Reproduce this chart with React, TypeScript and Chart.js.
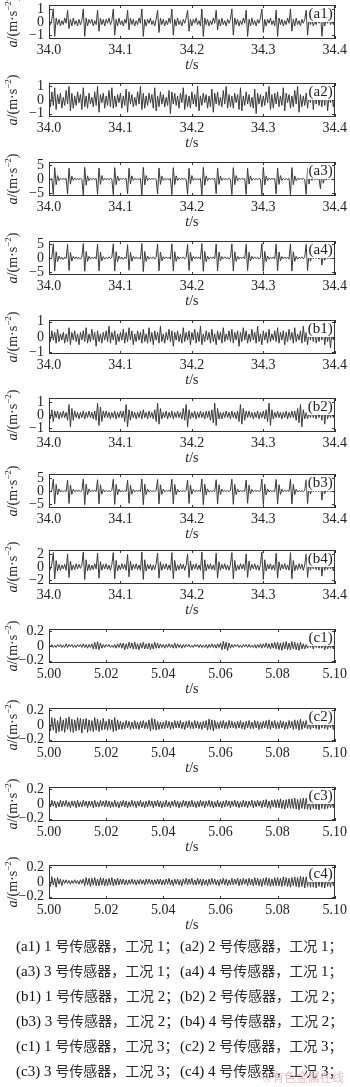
import React, { useEffect, useRef } from "react";
import { Chart, registerables } from "chart.js";
Chart.register(...registerables);

// ---------- sampling ----------
const T0_AB = 34.0;
const DT_AB = 0.002;
const T0_C = 5.0;
const DT_C = 0.0005;

// ---------- tick values / labels ----------
const X_TICKS_AB = [34.0, 34.1, 34.2, 34.3, 34.4];
const X_LABELS_AB = ["34.0", "34.1", "34.2", "34.3", "34.4"];
const X_TICKS_C = [5.0, 5.02, 5.04, 5.06, 5.08, 5.1];
const X_LABELS_C = ["5.00", "5.02", "5.04", "5.06", "5.08", "5.10"];

const Y_TICKS_1 = [-1, 0, 1];
const Y_LABELS_1 = ["\u22121", "0", "1"];
const Y_TICKS_5 = [-5, 0, 5];
const Y_LABELS_5 = ["\u22125", "0", "5"];
const Y_TICKS_2 = [-2, 0, 2];
const Y_LABELS_2 = ["\u22122", "0", "2"];
const Y_TICKS_02 = [-0.2, 0, 0.2];
const Y_LABELS_02 = ["\u22120.2", "0", "0.2"];

// ---------- series values (m/s^2) ----------
const A1 = [
  0.1,-0.2,0.2,1.0,-1.1,0.3,-0.2,0.2,-0.3,0.1,
  -0.2,0.3,-0.1,0.9,-0.5,0.2,-0.3,0.3,-0.2,0.1,
  -0.3,0.2,-0.2,0.1,1.0,-1.1,0.3,-0.3,0.2,-0.1,
  0.2,-0.3,0.1,-0.2,0.9,-0.7,0.3,-0.2,0.2,-0.3,
  0.2,-0.1,0.3,-0.2,0.1,1.0,-1.0,0.2,-0.3,0.3,
  -0.2,0.1,-0.3,0.2,-0.1,0.9,-0.6,0.3,-0.2,0.2,
  -0.3,0.1,-0.2,0.3,-0.1,1.0,-1.1,0.2,-0.3,0.2,
  -0.1,0.3,-0.2,0.1,-0.3,0.2,0.9,-0.8,0.3,-0.2,
  0.2,-0.3,0.1,-0.2,0.3,-0.1,1.0,-1.0,0.2,-0.3,
  0.3,-0.2,0.1,-0.3,0.2,-0.1,0.3,0.9,-0.7,0.2,
  -0.3,0.2,-0.1,0.3,-0.2,0.1,-0.3,1.0,-1.1,0.3,
  -0.2,0.2,-0.3,0.1,-0.2,0.3,-0.1,0.9,-0.6,0.2,
  -0.3,0.3,-0.2,0.1,-0.3,0.2,-0.1,0.2,1.0,-1.0,
  0.3,-0.2,0.2,-0.3,0.1,-0.2,0.3,-0.1,0.9,-1.1,
  0.2,-0.3,0.3,-0.2,0.1,-0.3,0.2,-0.1,0.3,1.0,
  -0.8,0.2,-0.3,0.2,-0.1,0.3,-0.2,0.1,-0.3,0.9,
  -1.1,0.3,-0.2,0.2,-0.3,0.1,-0.2,0.3,-0.1,1.0,
  -0.7,0.2,-0.3,0.3,-0.2,0.1,-0.3,0.2,-0.1,0.2,
  0.9,-1.0,0.3,-0.2,0.2,-0.3,0.1,-0.2,0.3,-0.1,
  1.0,-1.1,0.2,-0.3,0.2,-0.1,0.3,-0.2,0.1,-0.2,0.1,
];
const A2 = [
  0.3,-0.5,0.6,-0.4,0.9,-0.7,0.4,-0.3,0.5,-0.6,
  0.2,-0.4,0.7,-0.3,1.0,-0.8,0.5,-0.6,0.3,-0.4,
  0.6,-0.2,0.4,-0.7,0.9,-0.5,0.3,-0.6,0.5,-0.3,
  0.2,-0.5,0.6,-0.4,1.0,-0.9,0.4,-0.2,0.5,-0.6,
  0.3,-0.4,0.7,-0.5,0.9,-0.6,0.3,-0.5,0.4,-0.2,
  0.5,-0.6,0.3,-0.4,0.8,-0.9,0.6,-0.3,0.4,-0.5,
  0.2,-0.4,0.6,-0.3,1.0,-0.7,0.5,-0.6,0.3,-0.4,
  0.5,-0.2,0.4,-0.6,0.9,-0.8,0.3,-0.5,0.6,-0.3,
  0.4,-0.5,0.2,-0.4,0.7,-1.0,0.6,-0.3,0.5,-0.4,
  0.3,-0.6,0.5,-0.2,0.9,-0.7,0.4,-0.5,0.3,-0.6,
  0.6,-0.3,0.4,-0.5,1.0,-0.8,0.3,-0.4,0.5,-0.2,
  0.4,-0.6,0.3,-0.5,0.8,-0.9,0.5,-0.3,0.6,-0.4,
  0.2,-0.5,0.7,-0.3,1.0,-0.6,0.4,-0.5,0.3,-0.6,
  0.5,-0.2,0.4,-0.7,0.9,-0.8,0.3,-0.4,0.6,-0.3,
  0.4,-0.5,0.2,-0.6,0.8,-1.0,0.5,-0.3,0.4,-0.5,
  0.3,-0.4,0.6,-0.2,1.0,-0.7,0.4,-0.6,0.5,-0.3,
  0.6,-0.5,0.3,-0.4,0.9,-0.8,0.5,-0.2,0.4,-0.6,
  0.3,-0.5,0.7,-0.3,1.0,-0.9,0.4,-0.5,0.3,-0.4,
  0.5,-0.6,0.4,-0.2,0.8,-0.7,0.6,-0.3,0.5,-0.4,
  0.3,-0.5,0.6,-0.4,0.9,-0.8,0.3,-0.2,0.4,-0.5,0.3,
];
const A3 = [
  0.1,-0.2,0.2,-5.5,4.0,-2.0,1.2,-0.6,0.3,-0.2,
  0.2,-0.1,0.2,-5.3,3.8,-1.8,1.0,-0.5,0.3,-0.2,
  0.1,-0.2,0.2,-0.1,-5.6,4.1,-2.2,1.1,-0.6,0.3,
  -0.2,0.2,-0.1,0.2,-5.4,3.9,-1.9,1.2,-0.5,0.2,
  -0.2,0.1,-0.2,0.2,-0.1,-5.5,4.0,-2.0,1.0,-0.6,
  0.3,-0.2,0.2,-0.1,0.2,-5.2,3.8,-1.8,1.1,-0.5,
  0.2,-0.2,0.1,-0.2,0.2,-5.6,4.1,-2.1,1.2,-0.6,
  0.3,-0.2,0.2,-0.1,0.2,-0.2,-5.3,3.9,-1.9,1.0,
  -0.5,0.2,-0.2,0.1,-0.2,0.2,-5.5,4.0,-2.0,1.1,
  -0.6,0.3,-0.2,0.2,-0.1,0.2,-0.2,-5.4,3.8,-1.8,
  1.2,-0.5,0.2,-0.2,0.1,-0.2,0.2,-5.6,4.1,-2.2,
  1.1,-0.6,0.3,-0.2,0.2,-0.1,0.2,-5.2,3.9,-1.9,
  1.0,-0.5,0.2,-0.2,0.1,-0.2,0.2,-0.1,-5.5,4.0,
  -2.0,1.2,-0.6,0.3,-0.2,0.2,-0.1,0.2,-5.4,3.8,
  -1.8,1.1,-0.5,0.2,-0.2,0.1,-0.2,0.2,-0.1,-5.6,
  4.1,-2.1,1.0,-0.6,0.3,-0.2,0.2,-0.1,0.2,-5.3,
  3.9,-1.9,1.2,-0.5,0.2,-0.2,0.1,-0.2,0.2,-5.5,
  4.0,-2.0,1.1,-0.6,0.3,-0.2,0.2,-0.1,0.2,-0.2,
  -5.4,3.8,-1.8,1.0,-0.5,0.2,-0.2,0.1,-0.2,0.2,
  -3.5,3.0,-1.5,0.8,-0.4,0.2,-0.1,0.2,-0.2,0.1,-0.1,
];
const A4 = [
  0.3,-0.4,0.2,5.0,-4.6,2.2,-1.3,0.7,-0.4,0.3,
  -0.5,0.3,-0.2,4.8,-4.4,2.0,-1.1,0.6,-0.3,0.4,
  -0.3,0.2,-0.4,0.3,5.1,-4.7,2.3,-1.2,0.6,-0.4,
  0.3,-0.2,0.4,-0.3,4.9,-4.5,2.1,-1.0,0.5,-0.4,
  0.2,-0.3,0.4,-0.2,0.3,5.0,-4.6,2.2,-1.3,0.7,
  -0.4,0.3,-0.5,0.3,-0.2,4.7,-4.3,2.0,-1.1,0.6,
  -0.3,0.4,-0.3,0.2,-0.4,5.1,-4.8,2.3,-1.2,0.7,
  -0.4,0.3,-0.2,0.4,-0.3,0.2,4.9,-4.5,2.1,-1.0,
  0.5,-0.3,0.4,-0.2,0.3,-0.4,5.0,-4.6,2.2,-1.2,
  0.6,-0.4,0.3,-0.2,0.4,-0.3,0.2,4.8,-4.4,2.0,
  -1.1,0.6,-0.3,0.4,-0.2,0.3,-0.4,5.1,-4.7,2.3,
  -1.3,0.7,-0.4,0.3,-0.2,0.4,-0.3,4.9,-4.5,2.1,
  -1.0,0.5,-0.3,0.4,-0.2,0.3,-0.4,0.2,5.0,-4.6,
  2.2,-1.2,0.6,-0.4,0.3,-0.2,0.4,-0.3,4.8,-4.4,
  2.0,-1.1,0.6,-0.3,0.4,-0.2,0.3,-0.4,0.2,5.1,
  -4.7,2.3,-1.3,0.7,-0.4,0.3,-0.2,0.4,-0.3,4.9,
  -4.5,2.1,-1.0,0.5,-0.3,0.4,-0.2,0.3,-0.4,5.0,
  -4.6,2.2,-1.2,0.6,-0.4,0.3,-0.2,0.4,-0.3,0.2,
  4.8,-4.4,2.0,-1.1,0.6,-0.3,0.4,-0.2,0.3,-0.4,
  3.0,-2.5,1.4,-0.8,0.4,-0.3,0.2,-0.4,0.3,-0.2,0.3,
];
const B1 = [
  0.2,-0.3,0.4,-0.2,0.3,-0.4,0.5,-0.3,0.2,-0.2,
  0.3,-0.4,0.2,-0.3,0.6,-0.5,0.3,-0.2,0.4,-0.3,
  0.2,-0.5,0.3,-0.2,0.4,-0.3,0.6,-0.4,0.2,-0.3,
  0.5,-0.2,0.3,-0.6,0.4,-0.3,0.2,-0.4,0.3,-0.2,
  0.4,-0.3,0.7,-0.4,0.3,-0.2,0.4,-0.5,0.2,-0.3,
  0.3,-0.2,0.5,-0.4,0.3,-0.3,0.6,-0.2,0.4,-0.5,
  0.2,-0.3,0.4,-0.2,0.3,-0.4,0.5,-0.3,0.2,-0.4,
  0.6,-0.3,0.3,-0.5,0.4,-0.2,0.3,-0.4,0.7,-0.3,
  0.2,-0.4,0.3,-0.2,0.5,-0.3,0.4,-0.6,0.3,-0.2,
  0.4,-0.3,0.2,-0.4,0.6,-0.3,0.3,-0.2,0.4,-0.5,
  0.3,-0.2,0.5,-0.4,0.3,-0.3,0.7,-0.5,0.2,-0.3,
  0.4,-0.2,0.3,-0.4,0.5,-0.3,0.2,-0.5,0.4,-0.2,
  0.3,-0.4,0.6,-0.3,0.2,-0.2,0.4,-0.3,0.5,-0.4,
  0.3,-0.2,0.4,-0.6,0.3,-0.3,0.6,-0.2,0.4,-0.4,
  0.2,-0.3,0.5,-0.2,0.3,-0.4,0.7,-0.3,0.2,-0.5,
  0.4,-0.2,0.3,-0.4,0.5,-0.3,0.2,-0.2,0.4,-0.3,
  0.6,-0.4,0.3,-0.2,0.4,-0.5,0.3,-0.3,0.5,-0.2,
  0.3,-0.4,0.6,-0.3,0.2,-0.2,0.4,-0.4,0.7,-0.3,
  0.3,-0.5,0.4,-0.2,0.3,-0.3,0.5,-0.4,0.2,-0.3,
  0.4,-0.2,0.6,-0.5,0.3,-0.3,0.4,-0.7,0.3,-0.2,0.2,
];
const B2 = [
  0.2,-0.3,0.4,-0.5,0.3,-0.2,0.3,-0.3,0.2,-0.2,
  0.3,-0.2,0.2,-0.4,0.8,-0.9,0.5,-0.4,0.3,-0.2,
  0.2,-0.3,0.2,-0.2,0.3,-0.3,0.2,-0.2,0.3,-0.2,
  0.2,-0.3,0.3,-0.4,0.9,-0.8,0.6,-0.5,0.3,-0.2,
  0.3,-0.2,0.2,-0.3,0.2,-0.2,0.3,-0.3,0.2,-0.2,
  0.3,-0.2,0.3,-0.5,0.8,-0.9,0.4,-0.4,0.3,-0.2,
  0.2,-0.3,0.2,-0.2,0.3,-0.3,0.4,-0.2,0.2,-0.3,
  0.3,-0.2,0.2,-0.3,0.4,-0.5,0.9,-0.7,0.5,-0.3,
  0.2,-0.2,0.3,-0.3,0.2,-0.2,0.3,-0.3,0.2,-0.2,
  0.3,-0.2,0.2,-0.3,0.5,-0.4,0.8,-0.9,0.4,-0.3,
  0.2,-0.2,0.3,-0.3,0.2,-0.2,0.3,-0.2,0.2,-0.3,
  0.3,-0.2,0.3,-0.4,0.4,-0.6,0.9,-0.8,0.5,-0.3,
  0.2,-0.3,0.2,-0.2,0.3,-0.2,0.2,-0.3,0.3,-0.2,
  0.2,-0.3,0.3,-0.5,0.8,-0.7,0.5,-0.4,0.3,-0.2,
  0.3,-0.2,0.2,-0.3,0.2,-0.2,0.3,-0.3,0.2,-0.2,
  0.3,-0.3,0.4,-0.5,0.9,-0.8,0.4,-0.3,0.2,-0.2,
  0.3,-0.2,0.2,-0.3,0.2,-0.2,0.3,-0.3,0.2,-0.2,
  0.3,-0.2,0.3,-0.4,0.5,-0.6,0.8,-0.9,0.4,-0.3,
  0.2,-0.3,0.2,-0.2,0.3,-0.2,0.2,-0.3,0.3,-0.2,
  0.3,-0.4,0.8,-0.7,0.5,-0.3,0.2,-0.2,0.3,-0.2,0.2,
];
const B3 = [
  0.1,-0.2,0.2,4.5,-5.0,2.5,-1.5,0.8,-0.4,0.2,
  -0.2,0.1,-0.2,4.2,-4.8,2.3,-1.3,0.7,-0.3,0.2,
  -0.1,0.2,-0.2,0.1,4.6,-5.2,2.6,-1.4,0.8,-0.4,
  0.2,-0.1,0.2,-0.2,4.3,-4.9,2.4,-1.2,0.6,-0.3,
  0.2,-0.2,0.1,-0.2,0.2,4.5,-5.1,2.5,-1.5,0.7,
  -0.4,0.2,-0.2,0.1,-0.2,4.1,-4.7,2.2,-1.2,0.6,
  -0.3,0.2,-0.1,0.2,-0.2,4.6,-5.2,2.6,-1.4,0.8,
  -0.4,0.2,-0.2,0.1,-0.2,0.2,4.4,-4.9,2.4,-1.3,
  0.7,-0.3,0.2,-0.1,0.2,-0.2,4.5,-5.0,2.5,-1.4,
  0.7,-0.4,0.2,-0.2,0.1,-0.2,0.2,4.2,-4.8,2.3,
  -1.2,0.6,-0.3,0.2,-0.1,0.2,-0.2,4.6,-5.2,2.6,
  -1.5,0.8,-0.4,0.2,-0.2,0.1,-0.2,4.3,-4.9,2.4,
  -1.3,0.7,-0.3,0.2,-0.2,0.1,-0.2,0.2,4.5,-5.1,
  2.5,-1.4,0.7,-0.4,0.2,-0.2,0.1,-0.2,4.2,-4.7,
  2.2,-1.2,0.6,-0.3,0.2,-0.1,0.2,-0.2,0.1,4.6,
  -5.2,2.6,-1.5,0.8,-0.4,0.2,-0.2,0.1,-0.2,4.4,
  -4.9,2.4,-1.3,0.7,-0.3,0.2,-0.1,0.2,-0.2,4.5,
  -5.0,2.5,-1.4,0.7,-0.4,0.2,-0.2,0.1,-0.2,0.2,
  4.3,-4.8,2.3,-1.2,0.6,-0.3,0.2,-0.1,0.2,-0.2,
  3.0,-3.5,1.8,-1.0,0.5,-0.3,0.2,-0.2,0.1,-0.2,0.1,
];
const B4 = [
  0.3,-0.4,0.5,2.2,-1.8,1.0,-0.6,0.4,-0.5,0.3,
  -0.3,0.4,-0.5,2.0,-1.6,0.9,-0.5,0.3,-0.4,0.5,
  -0.3,0.4,-0.2,0.3,2.3,-1.9,1.1,-0.6,0.4,-0.5,
  0.3,-0.4,0.5,-0.3,2.1,-1.7,0.8,-0.5,0.4,-0.3,
  0.5,-0.4,0.3,-0.5,0.4,2.2,-1.8,1.0,-0.6,0.3,
  -0.4,0.5,-0.3,0.4,-0.5,1.9,-1.5,0.9,-0.5,0.4,
  -0.3,0.5,-0.4,0.3,-0.5,2.3,-1.9,1.1,-0.6,0.4,
  -0.3,0.4,-0.5,0.3,-0.4,0.5,2.1,-1.7,0.8,-0.5,
  0.4,-0.3,0.5,-0.4,0.3,-0.5,2.2,-1.8,1.0,-0.6,
  0.3,-0.4,0.5,-0.3,0.4,-0.5,0.3,2.0,-1.6,0.9,
  -0.5,0.4,-0.3,0.5,-0.4,0.3,-0.5,2.3,-1.9,1.1,
  -0.6,0.4,-0.3,0.5,-0.4,0.3,-0.5,2.1,-1.7,0.8,
  -0.5,0.4,-0.3,0.5,-0.4,0.3,-0.5,0.4,2.2,-1.8,
  1.0,-0.6,0.3,-0.4,0.5,-0.3,0.4,-0.5,2.0,-1.6,
  0.9,-0.5,0.4,-0.3,0.5,-0.4,0.3,-0.5,0.4,2.3,
  -1.9,1.1,-0.6,0.4,-0.3,0.5,-0.4,0.3,-0.5,2.1,
  -1.7,0.8,-0.5,0.4,-0.3,0.5,-0.4,0.3,-0.5,2.2,
  -1.8,1.0,-0.6,0.3,-0.4,0.5,-0.3,0.4,-0.5,0.3,
  2.0,-1.6,0.9,-0.5,0.4,-0.3,0.5,-0.4,0.3,-0.5,
  1.6,-1.4,0.8,-0.5,0.3,-0.4,0.5,-0.3,0.4,-0.6,0.3,
];
const C1 = [
  .02,-.01,.02,-.02,.01,-.02,.02,-.01,.02,-.02,
  .01,-.02,.03,-.02,.02,-.01,.02,-.02,.01,-.02,
  .02,-.01,.02,-.02,.03,-.02,.02,-.03,.02,-.02,
  .03,-.04,.05,-.04,.06,-.05,.04,-.03,.02,-.02,
  .02,-.01,.02,-.02,.01,-.02,.02,-.03,.03,-.02,
  .04,-.03,.04,-.05,.03,-.04,.05,-.03,.04,-.04,
  .05,-.04,.03,-.05,.04,-.03,.05,-.04,.03,-.04,
  .04,-.05,.03,-.04,.05,-.03,.04,-.03,.03,-.02,
  .02,-.03,.02,-.02,.03,-.02,.02,-.03,.04,-.03,
  .03,-.02,.02,-.03,.02,-.02,.02,-.01,.02,-.02,
  .01,-.02,.02,-.01,.02,-.02,.02,-.02,.01,-.02,
  .02,-.03,.02,-.02,.03,-.02,.02,-.03,.03,-.02,
  .04,-.05,.06,-.04,.05,-.06,.04,-.03,.02,-.02,
  .02,-.01,.02,-.02,.01,-.02,.02,-.01,.02,-.02,
  .02,-.02,.01,-.02,.02,-.03,.02,-.02,.03,-.03,
  .03,-.02,.04,-.03,.03,-.04,.04,-.03,.05,-.04,
  .05,-.05,.04,-.06,.05,-.04,.06,-.05,.04,-.05,
  .06,-.04,.05,-.05,.04,-.06,.05,-.04,.03,-.04,
  .02,-.03,.03,-.02,.02,-.04,.03,-.02,.03,-.03,
  .02,-.03,.04,-.05,.03,-.04,.02,-.03,.02,-.04,.03,
];
const C2 = [
  .05,-.08,.10,-.07,.09,-.11,.06,-.09,.11,-.08,
  .07,-.10,.09,-.06,.11,-.09,.08,-.10,.07,-.08,
  .10,-.07,.09,-.11,.08,-.06,.09,-.10,.07,-.08,
  .06,-.09,.10,-.07,.08,-.09,.06,-.07,.09,-.06,
  .05,-.07,.08,-.06,.07,-.09,.10,-.08,.07,-.06,
  .05,-.06,.04,-.05,.06,-.04,.05,-.06,.04,-.05,
  .06,-.05,.04,-.06,.05,-.04,.06,-.05,.04,-.05,
  .07,-.08,.09,-.06,.08,-.07,.05,-.06,.04,-.05,
  .04,-.05,.06,-.04,.05,-.06,.04,-.05,.06,-.04,
  .05,-.04,.06,-.05,.04,-.06,.05,-.04,.06,-.05,
  .04,-.05,.06,-.04,.05,-.05,.04,-.06,.05,-.04,
  .06,-.07,.08,-.06,.07,-.08,.06,-.05,.04,-.05,
  .05,-.04,.06,-.05,.04,-.05,.06,-.04,.05,-.04,
  .04,-.05,.05,-.04,.06,-.05,.04,-.06,.05,-.04,
  .06,-.05,.04,-.05,.06,-.04,.05,-.06,.04,-.05,
  .05,-.04,.06,-.05,.07,-.06,.05,-.04,.06,-.05,
  .04,-.05,.06,-.04,.05,-.06,.04,-.05,.06,-.04,
  .05,-.06,.07,-.05,.06,-.07,.08,-.06,.05,-.04,
  .06,-.05,.04,-.06,.05,-.04,.06,-.05,.07,-.06,
  .05,-.04,.06,-.05,.04,-.06,.05,-.04,.05,-.06,.04,
];
const C3 = [
  .03,-.04,.05,-.03,.04,-.05,.03,-.04,.05,-.04,
  .04,-.03,.05,-.04,.03,-.05,.04,-.03,.04,-.05,
  .05,-.04,.03,-.04,.05,-.03,.04,-.05,.04,-.03,
  .04,-.05,.05,-.04,.03,-.04,.05,-.03,.04,-.04,
  .05,-.04,.04,-.05,.03,-.04,.05,-.04,.03,-.05,
  .04,-.03,.05,-.04,.04,-.05,.03,-.04,.05,-.03,
  .04,-.05,.04,-.03,.05,-.04,.03,-.05,.04,-.04,
  .05,-.03,.04,-.05,.04,-.03,.05,-.04,.04,-.05,
  .03,-.04,.05,-.04,.03,-.05,.04,-.03,.05,-.04,
  .04,-.05,.03,-.04,.05,-.03,.04,-.05,.04,-.04,
  .05,-.04,.03,-.05,.04,-.04,.05,-.03,.04,-.05,
  .04,-.03,.05,-.04,.04,-.05,.03,-.04,.05,-.04,
  .03,-.05,.04,-.04,.05,-.03,.04,-.05,.04,-.03,
  .05,-.04,.04,-.05,.03,-.04,.05,-.04,.04,-.05,
  .04,-.03,.05,-.05,.04,-.04,.05,-.03,.04,-.05,
  .05,-.04,.06,-.05,.04,-.06,.05,-.04,.06,-.05,
  .06,-.05,.07,-.06,.05,-.07,.06,-.05,.07,-.06,
  .07,-.06,.08,-.07,.06,-.08,.07,-.06,.08,-.07,
  .08,-.07,.06,-.08,.07,-.06,.08,-.07,.06,-.08,
  .07,-.06,.08,-.07,.05,-.06,.04,-.05,.03,-.05,.04,
];
const C4 = [
  .02,-.06,.07,-.04,.05,-.07,.06,-.03,.04,-.05,
  .03,-.02,.03,-.02,.02,-.03,.02,-.02,.03,-.02,
  .02,-.03,.03,-.02,.04,-.05,.06,-.04,.05,-.06,
  .05,-.04,.06,-.05,.04,-.05,.06,-.04,.05,-.05,
  .04,-.05,.05,-.04,.06,-.05,.04,-.04,.05,-.04,
  .04,-.03,.04,-.04,.03,-.04,.03,-.03,.04,-.03,
  .03,-.04,.03,-.03,.04,-.03,.03,-.04,.04,-.03,
  .04,-.03,.03,-.04,.03,-.03,.04,-.03,.04,-.04,
  .03,-.04,.04,-.03,.05,-.04,.03,-.05,.04,-.03,
  .04,-.04,.03,-.05,.04,-.03,.05,-.04,.04,-.03,
  .05,-.04,.03,-.04,.05,-.03,.04,-.05,.04,-.04,
  .03,-.05,.04,-.04,.05,-.03,.04,-.04,.03,-.05,
  .04,-.03,.05,-.04,.04,-.05,.03,-.04,.05,-.04,
  .04,-.03,.05,-.05,.04,-.04,.05,-.03,.04,-.05,
  .05,-.04,.04,-.05,.06,-.04,.05,-.05,.04,-.06,
  .05,-.04,.06,-.05,.05,-.06,.04,-.05,.06,-.05,
  .06,-.05,.05,-.06,.07,-.05,.06,-.06,.05,-.07,
  .06,-.05,.07,-.06,.06,-.07,.08,-.06,.07,-.08,
  .07,-.06,.08,-.07,.09,-.07,.08,-.08,.07,-.06,
  .08,-.07,.06,-.08,.07,-.06,.05,-.07,.06,-.05,.04,
];

// ---------- caption ----------
const CAPTION = [
  ["(a1) 1 号传感器，工况 1；", "(a2) 2 号传感器，工况 1；"],
  ["(a3) 3 号传感器，工况 1；", "(a4) 4 号传感器，工况 1；"],
  ["(b1) 1 号传感器，工况 2；", "(b2) 2 号传感器，工况 2；"],
  ["(b3) 3 号传感器，工况 2；", "(b4) 4 号传感器，工况 2；"],
  ["(c1) 1 号传感器，工况 3；", "(c2) 2 号传感器，工况 3；"],
  ["(c3) 3 号传感器，工况 3；", "(c4) 4 号传感器，工况 3；"],
];
const WATERMARK = "©有色金属在线";

// ---------- layout ----------
const BOX_TOPS = [5, 83, 162, 241, 320, 398, 474, 550, 629, 708, 787, 865];
const BOX_H = 34;
const PAD_TOP = 22;
const CANVAS_H = 92;
const AXIS_W = 49;
const PAD_RIGHT = 12;
const SERIF = "Liberation Serif";
const INK = "#222";

type PanelDef = {
  id: string;
  values: number[];
  t0: number;
  dt: number;
  xTicks: number[];
  xLabels: string[];
  yMax: number;
  yTicks: number[];
  yLabels: string[];
};

const PANELS: PanelDef[] = [
  { id: "(a1)", values: A1, t0: T0_AB, dt: DT_AB, xTicks: X_TICKS_AB, xLabels: X_LABELS_AB, yMax: 1.3, yTicks: Y_TICKS_1, yLabels: Y_LABELS_1 },
  { id: "(a2)", values: A2, t0: T0_AB, dt: DT_AB, xTicks: X_TICKS_AB, xLabels: X_LABELS_AB, yMax: 1.25, yTicks: Y_TICKS_1, yLabels: Y_LABELS_1 },
  { id: "(a3)", values: A3, t0: T0_AB, dt: DT_AB, xTicks: X_TICKS_AB, xLabels: X_LABELS_AB, yMax: 6, yTicks: Y_TICKS_5, yLabels: Y_LABELS_5 },
  { id: "(a4)", values: A4, t0: T0_AB, dt: DT_AB, xTicks: X_TICKS_AB, xLabels: X_LABELS_AB, yMax: 6, yTicks: Y_TICKS_5, yLabels: Y_LABELS_5 },
  { id: "(b1)", values: B1, t0: T0_AB, dt: DT_AB, xTicks: X_TICKS_AB, xLabels: X_LABELS_AB, yMax: 1.1, yTicks: Y_TICKS_1, yLabels: Y_LABELS_1 },
  { id: "(b2)", values: B2, t0: T0_AB, dt: DT_AB, xTicks: X_TICKS_AB, xLabels: X_LABELS_AB, yMax: 1.3, yTicks: Y_TICKS_1, yLabels: Y_LABELS_1 },
  { id: "(b3)", values: B3, t0: T0_AB, dt: DT_AB, xTicks: X_TICKS_AB, xLabels: X_LABELS_AB, yMax: 6.5, yTicks: Y_TICKS_5, yLabels: Y_LABELS_5 },
  { id: "(b4)", values: B4, t0: T0_AB, dt: DT_AB, xTicks: X_TICKS_AB, xLabels: X_LABELS_AB, yMax: 2.6, yTicks: Y_TICKS_2, yLabels: Y_LABELS_2 },
  { id: "(c1)", values: C1, t0: T0_C, dt: DT_C, xTicks: X_TICKS_C, xLabels: X_LABELS_C, yMax: 0.23, yTicks: Y_TICKS_02, yLabels: Y_LABELS_02 },
  { id: "(c2)", values: C2, t0: T0_C, dt: DT_C, xTicks: X_TICKS_C, xLabels: X_LABELS_C, yMax: 0.23, yTicks: Y_TICKS_02, yLabels: Y_LABELS_02 },
  { id: "(c3)", values: C3, t0: T0_C, dt: DT_C, xTicks: X_TICKS_C, xLabels: X_LABELS_C, yMax: 0.23, yTicks: Y_TICKS_02, yLabels: Y_LABELS_02 },
  { id: "(c4)", values: C4, t0: T0_C, dt: DT_C, xTicks: X_TICKS_C, xLabels: X_LABELS_C, yMax: 0.23, yTicks: Y_TICKS_02, yLabels: Y_LABELS_02 },
];

function drawParts(ctx: CanvasRenderingContext2D, parts: { t: string; f: string; dy: number }[], cx: number, y: number) {
  let total = 0;
  const widths = parts.map((p) => {
    ctx.font = p.f;
    const w = ctx.measureText(p.t).width;
    total += w;
    return w;
  });
  let x = cx - total / 2;
  parts.forEach((p, i) => {
    ctx.font = p.f;
    ctx.fillText(p.t, x, y + p.dy);
    x += widths[i];
  });
}

function makeDeco(p: PanelDef) {
  return {
    id: "deco",
    afterDatasetsDraw(chart: any) {
      const ctx: CanvasRenderingContext2D = chart.ctx;
      const a = chart.chartArea;
      ctx.save();
      ctx.font = `15px "${SERIF}"`;
      const w = ctx.measureText(p.id).width;
      const xr = a.right - 2;
      const x0 = xr - w;
      ctx.fillStyle = "#fff";
      ctx.fillRect(x0 - 1, a.top + 1, w + 2, 16);
      ctx.fillStyle = INK;
      ctx.textBaseline = "alphabetic";
      ctx.fillText(p.id, x0, a.top + 13);
      ctx.restore();
    },
    afterDraw(chart: any) {
      const ctx: CanvasRenderingContext2D = chart.ctx;
      const a = chart.chartArea;
      const xs = chart.scales.x;
      const ys = chart.scales.y;
      const l = Math.round(a.left), r = Math.round(a.right), t = Math.round(a.top), b = Math.round(a.bottom);
      ctx.save();
      ctx.strokeStyle = "#333";
      ctx.lineWidth = 1;
      ctx.strokeRect(l + 0.5, t + 0.5, r - l - 1, b - t - 1);
      ctx.beginPath();
      p.xTicks.forEach((v) => {
        const px = Math.round(xs.getPixelForValue(v)) + 0.5;
        ctx.moveTo(px, b); ctx.lineTo(px, b - 3);
        ctx.moveTo(px, t); ctx.lineTo(px, t + 3);
      });
      p.yTicks.forEach((v) => {
        const py = Math.round(ys.getPixelForValue(v)) + 0.5;
        ctx.moveTo(l, py); ctx.lineTo(l + 3, py);
        ctx.moveTo(r, py); ctx.lineTo(r - 3, py);
      });
      ctx.stroke();

      // x title  t/s
      ctx.fillStyle = INK;
      ctx.textBaseline = "alphabetic";
      drawParts(ctx, [
        { t: "t", f: `italic 14px "${SERIF}"`, dy: 0 },
        { t: "/s", f: `14px "${SERIF}"`, dy: 0 },
      ], (a.left + a.right) / 2, b + 30);

      // y title  a/(m·s^-2)
      ctx.translate(12, (a.top + a.bottom) / 2);
      ctx.rotate(-Math.PI / 2);
      drawParts(ctx, [
        { t: "a", f: `italic 14px "${SERIF}"`, dy: 0 },
        { t: "/(m·s", f: `14px "${SERIF}"`, dy: 0 },
        { t: "\u22122", f: `9px "${SERIF}"`, dy: -5.5 },
        { t: ")", f: `14px "${SERIF}"`, dy: 0 },
      ], 0, 4.5);
      ctx.restore();
    },
  };
}

function Panel({ p, top }: { p: PanelDef; top: number }) {
  const ref = useRef<HTMLCanvasElement>(null);
  useEffect(() => {
    const data = p.values.map((v, i) => ({ x: p.t0 + i * p.dt, y: v }));
    const tickFont = { family: SERIF, size: 14 };
    const chart = new Chart(ref.current as HTMLCanvasElement, {
      type: "line",
      data: {
        datasets: [
          {
            data,
            borderColor: "#3a3a3a",
            borderWidth: 1,
            pointRadius: 0,
            tension: 0,
            fill: false,
          },
        ],
      },
      options: {
        animation: false,
        responsive: false,
        devicePixelRatio: 1,
        events: [],
        layout: { padding: { top: PAD_TOP, right: PAD_RIGHT, bottom: 0, left: 0 } },
        plugins: { legend: { display: false }, tooltip: { enabled: false } },
        scales: {
          x: {
            type: "linear",
            min: p.xTicks[0],
            max: p.xTicks[p.xTicks.length - 1],
            grid: { display: false, drawTicks: false },
            border: { display: false },
            ticks: {
              font: tickFont,
              color: INK,
              padding: 3,
              maxRotation: 0,
              autoSkip: false,
              callback: (_v: any, i: number) => p.xLabels[i],
            },
            afterBuildTicks: (s: any) => {
              s.ticks = p.xTicks.map((v) => ({ value: v }));
            },
            afterFit: (s: any) => {
              s.height = CANVAS_H - PAD_TOP - BOX_H;
            },
          },
          y: {
            type: "linear",
            min: -p.yMax,
            max: p.yMax,
            grid: { display: false, drawTicks: false },
            border: { display: false },
            ticks: {
              font: tickFont,
              color: INK,
              padding: 5,
              autoSkip: false,
              callback: (_v: any, i: number) => p.yLabels[i],
            },
            afterBuildTicks: (s: any) => {
              s.ticks = p.yTicks.map((v) => ({ value: v }));
            },
            afterFit: (s: any) => {
              s.width = AXIS_W;
            },
          },
        },
      } as any,
      plugins: [makeDeco(p)],
    });
    return () => chart.destroy();
  }, [p]);
  return (
    <canvas
      ref={ref}
      width={350}
      height={CANVAS_H}
      style={{ position: "absolute", left: 0, top, width: 350, height: CANVAS_H }}
    />
  );
}

function CaptionCell({ text, left }: { text: string; left: number }) {
  const pieces = text.split(/([\u3000-\u9fff\uff00-\uffef]+)/).filter((s) => s.length > 0);
  return (
    <span style={{ position: "absolute", left, top: 0, whiteSpace: "pre" }}>
      {pieces.map((s, i) => {
        const cjk = /[\u3000-\u9fff\uff00-\uffef]/.test(s);
        return (
          <span
            key={i}
            style={{
              fontFamily: cjk ? '"Noto Sans CJK SC", sans-serif' : `"${SERIF}", serif`,
              fontSize: cjk ? 14 : 15,
              color: cjk ? "#2a2a2a" : "#111",
            }}
          >
            {s}
          </span>
        );
      })}
    </span>
  );
}

export default function App() {
  return (
    <div
      style={{
        position: "absolute",
        left: 0,
        top: 0,
        width: 350,
        height: 1087,
        background: "#fff",
        overflow: "hidden",
      }}
    >
      {PANELS.map((p, i) => (
        <Panel key={p.id} p={p} top={BOX_TOPS[i] - PAD_TOP} />
      ))}
      {CAPTION.map((row, i) => (
        <div
          key={i}
          style={{
            position: "absolute",
            left: 0,
            top: 933 + i * 25,
            width: 350,
            height: 25,
            lineHeight: "25px",
          }}
        >
          <CaptionCell text={row[0]} left={16} />
          <CaptionCell text={row[1]} left={180} />
        </div>
      ))}
      <div
        style={{
          position: "absolute",
          left: 262,
          top: 1069,
          fontFamily: '"Noto Sans CJK SC", sans-serif',
          fontSize: 12,
          lineHeight: "16px",
          color: "#f2b8c2",
          whiteSpace: "pre",
        }}
      >
        {WATERMARK}
      </div>
    </div>
  );
}
